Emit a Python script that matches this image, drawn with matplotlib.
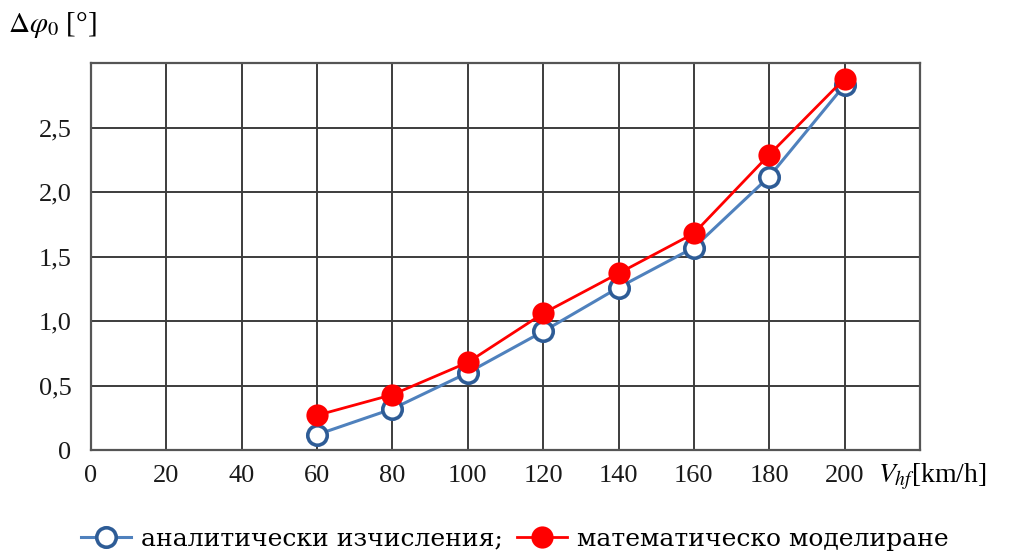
import matplotlib
matplotlib.use("Agg")
import matplotlib.pyplot as plt
from matplotlib.ticker import FixedLocator, FixedFormatter

plt.rcParams['mathtext.fontset'] = 'stix'

# speed of the vehicle, km/h
speed = [60, 80, 100, 120, 140, 160, 180, 200]
# analytical results
analytic = [0.12, 0.32, 0.60, 0.92, 1.26, 1.57, 2.12, 2.83]
# mathematical modelling results
model = [0.27, 0.43, 0.68, 1.06, 1.37, 1.68, 2.29, 2.88]

xticks = [0, 20, 40, 60, 80, 100, 120, 140, 160, 180, 200]
yticks = [0, 0.5, 1.0, 1.5, 2.0, 2.5]
ytick_labels = ['0', '0,5', '1,0', '1,5', '2,0', '2,5']
label_analytic = 'аналитически изчисления;'
label_model = 'математическо моделиране'

fig = plt.figure(figsize=(10.14, 5.53), dpi=100)
ax = fig.add_axes([0.0897, 0.186, 0.8176, 0.700])

ax.plot(speed, analytic, color='#4F81BD', lw=2.2, marker='o', ms=14,
        mfc='white', mec='#2E5C96', mew=2.6, label=label_analytic, zorder=3)
ax.plot(speed, model, color='#FF0000', lw=2.0, marker='o', ms=16,
        mfc='#FF0000', mec='#FF0000', mew=0, label=label_model, zorder=4)

ax.set_xlim(0, 220)
ax.set_ylim(0, 3.0)
ax.set_xticks(list(range(0, 221, 20)), minor=True)
ax.xaxis.set_major_locator(FixedLocator(xticks))
ax.yaxis.set_major_locator(FixedLocator(yticks))
ax.yaxis.set_major_formatter(FixedFormatter(ytick_labels))
ax.set_yticks([3.0], minor=True)
ax.grid(True, which='both', color='#3c3c3c', lw=1.4)
ax.set_axisbelow(True)
ax.tick_params(which='both', length=0)
ax.tick_params(axis='x', pad=11)
ax.tick_params(axis='y', pad=14)
for lbl in ax.get_xticklabels() + ax.get_yticklabels():
    lbl.set_fontfamily('Liberation Serif')
    lbl.set_fontsize(19)
    lbl.set_color('#1a1a1a')
for s in ax.spines.values():
    s.set_color('#555555')
    s.set_linewidth(1.6)

# axis captions
fig.text(0.008, 0.955, r'$\Delta\varphi_0$ [°]', fontsize=21,
         family='Liberation Serif', va='center', ha='left')
fig.text(0.866, 0.138, r'$V_{hf}$[km/h]', fontsize=20,
         family='Liberation Serif', va='center', ha='left')

fig.legend(loc='center', bbox_to_anchor=(0.508, 0.025), ncol=2, frameon=False,
           prop={'family': 'DejaVu Serif', 'size': 18}, handlelength=2.0,
           handletextpad=0.4, columnspacing=0.55, borderaxespad=0)

fig.savefig('out.png', dpi=100)
